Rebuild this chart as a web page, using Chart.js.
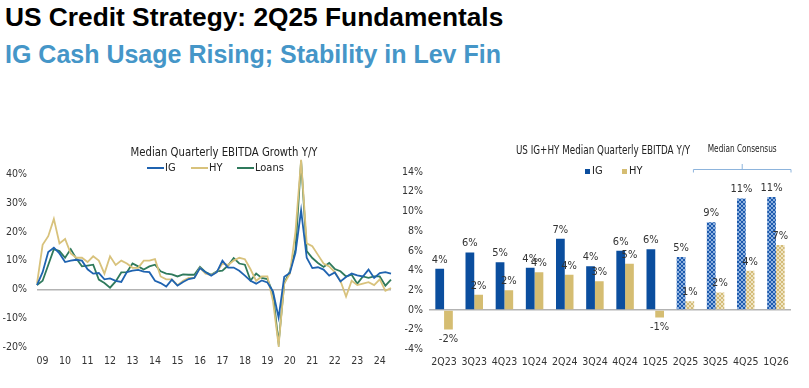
<!DOCTYPE html>
<html>
<head>
<meta charset="utf-8">
<script src="https://cdn.jsdelivr.net/npm/chart.js@4.4.1/dist/chart.umd.min.js"></script>
<style>
  body { margin: 0; width: 809px; height: 388px; background: #fff; overflow: hidden; position: relative; font-family: "Liberation Sans", Arial, sans-serif; }
  h1, h2 { position: absolute; left: 5px; margin: 0; font-weight: bold; white-space: nowrap; }
  h1 { top: 2px; font-size: 26.3px; color: #000; }
  h2 { top: 40px; font-size: 25px; color: #4596c8; }
  .box { position: absolute; top: 140px; height: 248px; }
</style>
</head>
<body>
<h1>US Credit Strategy: 2Q25 Fundamentals</h1>
<h2>IG Cash Usage Rising; Stability in Lev Fin</h2>
<div class="box" style="left:0;width:400px"><canvas id="growth"></canvas></div>
<div class="box" style="left:400px;width:409px"><canvas id="bars"></canvas></div>
<script>
const FONT = '"Liberation Sans Narrow", "DejaVu Sans Condensed", Roboto, sans-serif';

// left chart: quarterly median EBITDA growth, first value is the starting point before 09
const years = ['09','10','11','12','13','14','15','16','17','18','19','20','21','22','23','24'];
const igGrowth = [1.5, 6, 13, 14.5, 12.5, 9.5, 10, 10.3, 10, 7, 5.5, 5.7, 3.5, 3.8, 3, 2.6, 6, 6.5, 6.8, 6.2, 6, 3, 2.2, 1, 3.4, 1.3, 2.6, 3.6, 4, 7.4, 6, 4.8, 6, 10, 7.6, 7.6, 6.5, 4.8, 3, 2, 3.1, 2.4, -0.7, -9.8, 4.4, 5.7, 12.7, 27.5, 11, 7.4, 7.7, 6.9, 4.8, 5.9, 2.8, 4.3, 5.5, 4.9, 4.5, 6.9, 4, 5.7, 6, 5.5];
const hyGrowth = [2, 15.5, 18.5, 24.5, 16, 17.5, 12.5, 11, 11, 9.5, 11.5, 10, 5.5, 11.5, 8.5, 10, 9, 7.5, 7.5, 10, 10, 10.5, 4.5, 3.5, 3.5, 1.5, 3, 4, 4, 7.5, 5.5, 5, 6, 9, 8.5, 10, 11, 10.5, 7, 3, 4.5, 4.5, -4, -19.5, 2, 5.5, 20, 45, 16, 15, 12, 9, 8, 6, 3, -2.5, 3, 1.5, 2, 2.5, 1.5, 3.5, -0.5, 0.5];
const loansGrowth = [1.5, 3, 8.5, 14, 13.3, 11, 14, 10.7, 8, 8.3, 8.6, 3.4, 2.2, 0.6, 2.8, 5.9, 6, 9, 8, 6.9, 8, 8.6, 6.3, 5.5, 5.2, 4.5, 5.2, 5.1, 5.1, 7.8, 6, 5.1, 6.3, 6.5, 8.3, 10.9, 9, 8.6, 3.1, 5.5, 4, 3.6, -1.3, -18.7, 2.2, 6.3, 13.8, 44.7, 13.3, 10.9, 9.2, 7.8, 9.2, 7.1, 6.3, 4.5, 5.1, 2, 4.5, 4, 4.5, 4.5, 1.3, 3.4];

// right chart: IG+HY median quarterly EBITDA y/y, last 4 are consensus
const quarters = ['2Q23','3Q23','4Q23','1Q24','2Q24','3Q24','4Q24','1Q25','2Q25','3Q25','4Q25','1Q26'];
const igBars = [4.17, 5.83, 4.85, 4.27, 7.22, 4.44, 6.0, 6.17, 5.36, 8.9, 11.3, 11.45];
const hyBars = [-2.0, 1.53, 2.0, 3.83, 3.56, 2.92, 4.68, -0.78, 0.88, 1.76, 3.97, 6.58];
const firstConsensus = 8;

const IG_LINE = '#1f63b0', HY_LINE = '#d8c27c', LOANS_LINE = '#2f7a5c';
const IG_BAR = '#0b4e9e', HY_BAR = '#d5bd72';

const growthLabels = [''];
for (let i = 0; i < igGrowth.length - 1; i++) growthLabels.push(i % 4 === 0 ? years[i / 4] : '');

function hatch(fg, bg) {
  const c = document.createElement('canvas');
  c.width = 4; c.height = 4;
  const x = c.getContext('2d');
  x.fillStyle = bg; x.fillRect(0, 0, 4, 4);
  x.fillStyle = fg;
  for (let i = 0; i < 4; i++) { x.fillRect(i, i, 1, 1); x.fillRect(3 - i, i, 1, 1); }
  return x.createPattern(c, 'repeat');
}
const igHatch = hatch('#1d5aad', '#8db1e0');
const hyHatch = hatch('#d3bc78', '#efe3c2');

const zeroGrid = {
  drawTicks: false,
  color: c => c.tick && c.tick.value === 0 ? '#b3b3b3' : 'transparent',
  lineWidth: 1.5
};

// squeezed text, the source uses a condensed face
function narrowText(ctx, txt, x, y, size, sx) {
  ctx.save();
  ctx.font = size + 'px ' + FONT;
  ctx.translate(x, y);
  ctx.scale(sx, 1);
  ctx.textAlign = 'center';
  ctx.textBaseline = 'middle';
  ctx.fillText(txt, 0, 0);
  ctx.restore();
}

const growthOverlay = {
  id: 'growthOverlay',
  afterDraw(chart) {
    const ctx = chart.ctx;
    ctx.save();
    ctx.fillStyle = '#222';
    narrowText(ctx, 'Median Quarterly EBITDA Growth Y/Y', 224, 13, 12.5, 0.9);
    ctx.font = '11px ' + FONT;
    ctx.textAlign = 'left';
    ctx.textBaseline = 'middle';
    const starts = [147, 191, 237];
    chart.data.datasets.forEach((ds, i) => {
      ctx.strokeStyle = ds.borderColor;
      ctx.lineWidth = 2;
      ctx.beginPath();
      ctx.moveTo(starts[i], 28);
      ctx.lineTo(starts[i] + 17, 28);
      ctx.stroke();
      ctx.fillText(ds.label, starts[i] + 18, 28);
    });
    ctx.restore();
  }
};

new Chart(document.getElementById('growth'), {
  type: 'line',
  data: {
    labels: growthLabels,
    datasets: [
      { label: 'IG', data: igGrowth, borderColor: IG_LINE },
      { label: 'HY', data: hyGrowth, borderColor: HY_LINE },
      { label: 'Loans', data: loansGrowth, borderColor: LOANS_LINE }
    ]
  },
  options: {
    responsive: true,
    maintainAspectRatio: false,
    animation: false,
    elements: { point: { radius: 0 }, line: { borderWidth: 1.8, tension: 0 } },
    layout: { padding: { left: 0, right: 9, top: 17, bottom: 0 } },
    plugins: { legend: { display: false }, tooltip: { enabled: false } },
    scales: {
      x: {
        grid: { display: false, drawTicks: false },
        border: { display: false },
        ticks: { autoSkip: false, maxRotation: 0, padding: 8, color: '#333', font: { family: FONT, size: 10.5 } },
        afterFit: s => { s.height = 41; }
      },
      y: {
        min: -20, max: 46,
        grid: zeroGrid,
        border: { display: false },
        ticks: {
          stepSize: 10, padding: 10, color: '#333', font: { family: FONT, size: 10.5 },
          callback: v => v % 10 === 0 ? v + '%' : ''
        },
        afterFit: s => { s.width = 37; }
      }
    }
  },
  plugins: [growthOverlay]
});

const barOverlay = {
  id: 'barOverlay',
  afterDatasetsDraw(chart) {
    const ctx = chart.ctx;
    ctx.save();
    ctx.fillStyle = '#333';
    ctx.font = '11px ' + FONT;
    ctx.textAlign = 'center';
    ctx.textBaseline = 'middle';
    chart.data.datasets.forEach((ds, d) => {
      chart.getDatasetMeta(d).data.forEach((bar, i) => {
        const v = ds.data[i];
        const y = v >= 0 ? bar.y - 9 : bar.y + 10;
        ctx.fillText(Math.round(v) + '%', bar.x, y);
      });
    });
    ctx.restore();
  },
  afterDraw(chart) {
    const ctx = chart.ctx;
    const x = chart.scales.x;
    ctx.save();
    ctx.fillStyle = '#222';
    narrowText(ctx, 'US IG+HY Median Quarterly EBITDA Y/Y', 203, 11, 11.5, 0.85);
    // legend
    ctx.font = '11px ' + FONT;
    ctx.textAlign = 'left';
    ctx.textBaseline = 'middle';
    [[185, IG_BAR, 'IG'], [222, HY_BAR, 'HY']].forEach(([lx, col, txt]) => {
      ctx.fillStyle = col;
      ctx.fillRect(lx, 29, 5, 5);
      ctx.fillStyle = '#222';
      ctx.fillText(txt, lx + 7, 31.5);
    });
    // consensus bracket
    const left = x.getPixelForValue(firstConsensus) + 8;
    const right = chart.chartArea.right;
    const mid = (left + right) / 2;
    ctx.strokeStyle = '#8db4dc';
    ctx.lineWidth = 1;
    ctx.beginPath();
    ctx.moveTo(left, 32.5); ctx.lineTo(left, 29.5); ctx.lineTo(right, 29.5); ctx.lineTo(right, 32.5);
    ctx.moveTo(mid, 29.5); ctx.lineTo(mid, 24);
    ctx.stroke();
    ctx.fillStyle = '#222';
    narrowText(ctx, 'Median Consensus', mid, 9, 10, 0.82);
    ctx.restore();
  }
};

new Chart(document.getElementById('bars'), {
  type: 'bar',
  data: {
    labels: quarters,
    datasets: [
      { label: 'IG', data: igBars, backgroundColor: igBars.map((v, i) => i >= firstConsensus ? igHatch : IG_BAR) },
      { label: 'HY', data: hyBars, backgroundColor: hyBars.map((v, i) => i >= firstConsensus ? hyHatch : HY_BAR) }
    ]
  },
  options: {
    responsive: true,
    maintainAspectRatio: false,
    animation: false,
    datasets: { bar: { categoryPercentage: 0.58, barPercentage: 1.0 } },
    layout: { padding: { left: 0, right: 18, top: 32, bottom: 0 } },
    plugins: { legend: { display: false }, tooltip: { enabled: false } },
    scales: {
      x: {
        grid: { display: false, drawTicks: false },
        border: { display: false },
        ticks: { maxRotation: 0, padding: 7, color: '#333', font: { family: FONT, size: 10.5 } },
        afterFit: s => { s.height = 38.7; }
      },
      y: {
        min: -4, max: 14,
        grid: zeroGrid,
        border: { display: false },
        ticks: { stepSize: 2, padding: 6, color: '#333', font: { family: FONT, size: 10.5 }, callback: v => v + '%' },
        afterFit: s => { s.width = 29; }
      }
    }
  },
  plugins: [barOverlay]
});
</script>
</body>
</html>
